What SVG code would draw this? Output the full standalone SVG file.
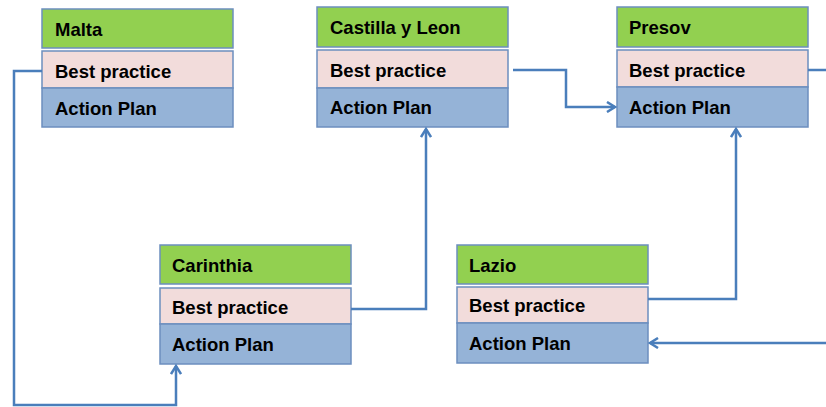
<svg xmlns="http://www.w3.org/2000/svg" width="826" height="407" viewBox="0 0 826 407">
<style>
.g{fill:#92D050;stroke:#6C8EBF;stroke-width:1.5}
.p{fill:#F2DCDB;stroke:#6C8EBF;stroke-width:1.5}
.b{fill:#95B3D7;stroke:#6C8EBF;stroke-width:1.5}
text{font-family:"Liberation Sans",Arial,sans-serif;font-weight:bold;font-size:18.5px;fill:#000}
.c{fill:none;stroke:#4A7EBB;stroke-width:2.5}
</style>
<defs>
<marker id="a" markerWidth="12" markerHeight="12" refX="10" refY="6" orient="auto" markerUnits="userSpaceOnUse">
<path d="M2,1 L10,6 L2,11" fill="none" stroke="#4A7EBB" stroke-width="2.5"/>
</marker>
</defs>
<g id="malta">
<rect class="g" x="42" y="9" width="191" height="39"/>
<rect class="p" x="42" y="51" width="191" height="37"/>
<rect class="b" x="42" y="88" width="191" height="39"/>
<text x="55" y="36">Malta</text>
<text x="55" y="78">Best practice</text>
<text x="55" y="115">Action Plan</text>
</g>
<g id="castilla">
<rect class="g" x="317" y="7" width="191" height="40"/>
<rect class="p" x="317" y="50" width="191" height="38"/>
<rect class="b" x="317" y="88" width="191" height="39"/>
<text x="330" y="34">Castilla y Leon</text>
<text x="330" y="77">Best practice</text>
<text x="330" y="114">Action Plan</text>
</g>
<g id="presov">
<rect class="g" x="617" y="7" width="191" height="40"/>
<rect class="p" x="617" y="50" width="191" height="37"/>
<rect class="b" x="617" y="87" width="191" height="40"/>
<text x="629" y="34">Presov</text>
<text x="629" y="77">Best practice</text>
<text x="629" y="114">Action Plan</text>
</g>
<g id="carinthia">
<rect class="g" x="160" y="245" width="191" height="39"/>
<rect class="p" x="160" y="288" width="191" height="36"/>
<rect class="b" x="160" y="324" width="191" height="40"/>
<text x="172" y="272">Carinthia</text>
<text x="172" y="314">Best practice</text>
<text x="172" y="351">Action Plan</text>
</g>
<g id="lazio">
<rect class="g" x="457" y="245" width="191" height="39"/>
<rect class="p" x="457" y="287" width="191" height="36"/>
<rect class="b" x="457" y="323" width="191" height="40"/>
<text x="469" y="272">Lazio</text>
<text x="469" y="312">Best practice</text>
<text x="469" y="350">Action Plan</text>
</g>
<g id="connectors">
<path class="c" d="M42,71 H14 V405 H176 V366" marker-end="url(#a)"/>
<path class="c" d="M351,309 H426 V129" marker-end="url(#a)"/>
<path class="c" d="M513,70 H566 V107 H615" marker-end="url(#a)"/>
<path class="c" d="M648,299 H736 V129" marker-end="url(#a)"/>
<path class="c" d="M808,70 H826"/>
<path class="c" d="M826,343 H650" marker-end="url(#a)"/>
</g>
</svg>
